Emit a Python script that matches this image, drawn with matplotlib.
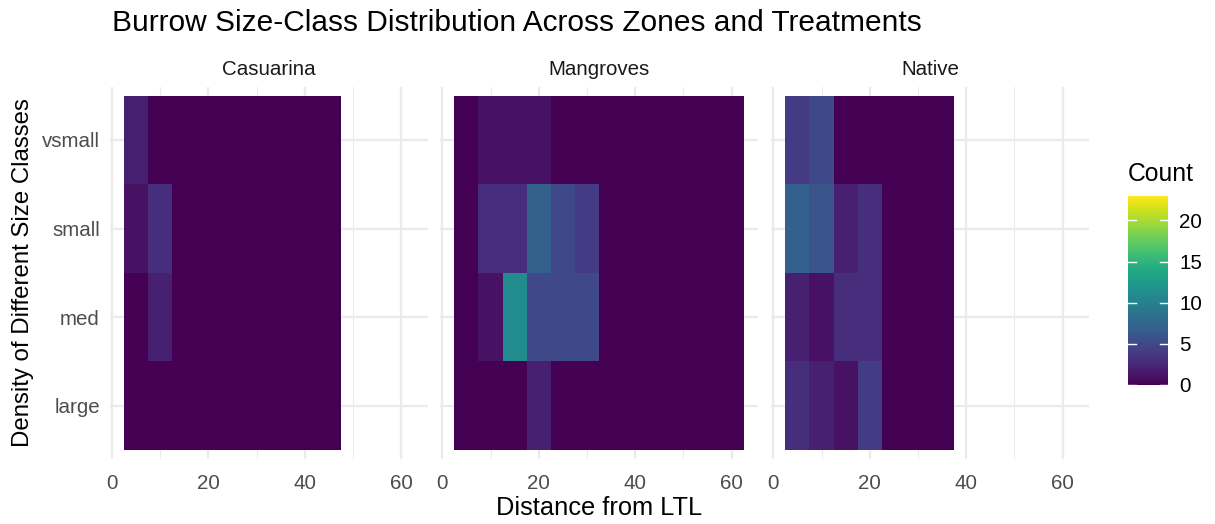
import numpy as np
import matplotlib
matplotlib.use("Agg")
import matplotlib.pyplot as plt
from matplotlib.colors import Normalize
from matplotlib.cm import ScalarMappable

plt.rcParams['font.family'] = ['Liberation Sans', 'DejaVu Sans']

# ---------------- data ----------------
size_classes = ["large", "med", "small", "vsmall"]
zones = ["Casuarina", "Mangroves", "Native"]

cas_dist = [5, 10, 15, 20, 25, 30, 35, 40, 45]
cas_large = [0, 0, 0, 0, 0, 0, 0, 0, 0]
cas_med = [0, 2, 0, 0, 0, 0, 0, 0, 0]
cas_small = [1, 3, 0, 0, 0, 0, 0, 0, 0]
cas_vsmall = [2, 0, 0, 0, 0, 0, 0, 0, 0]

man_dist = [5, 10, 15, 20, 25, 30, 35, 40, 45, 50, 55, 60]
man_large = [0, 0, 0, 2, 0, 0, 0, 0, 0, 0, 0, 0]
man_med = [0, 1, 11, 5, 5, 5, 0, 0, 0, 0, 0, 0]
man_small = [0, 3, 3, 7, 5, 4, 0, 0, 0, 0, 0, 0]
man_vsmall = [0, 1, 1, 1, 0, 0, 0, 0, 0, 0, 0, 0]

nat_dist = [5, 10, 15, 20, 25, 30, 35]
nat_large = [3, 2, 1, 4, 0, 0, 0]
nat_med = [2, 1, 3, 3, 0, 0, 0]
nat_small = [7, 6, 2, 3, 0, 0, 0]
nat_vsmall = [4, 5, 0, 0, 0, 0, 0]

count_limits = [0, 23]
x_ticks = [0, 20, 40, 60]
cbar_ticks = [0, 5, 10, 15, 20]

facets = [
    ("Casuarina", cas_dist, [cas_large, cas_med, cas_small, cas_vsmall]),
    ("Mangroves", man_dist, [man_large, man_med, man_small, man_vsmall]),
    ("Native", nat_dist, [nat_large, nat_med, nat_small, nat_vsmall]),
]

# ---------------- figure ----------------
W, H = 1215, 524
fig = plt.figure(figsize=(W / 100, H / 100), dpi=100)
norm = Normalize(vmin=count_limits[0], vmax=count_limits[1])
cmap = plt.get_cmap("viridis")

panel_lefts = [109.6, 439.9, 770.9]
panel_w = 318.2
panel_top, panel_bot = 86.8, 458.8
grid_c = "#EBEBEB"
tile_w = 5

axes = []
for i, (name, dist, rows) in enumerate(facets):
    ax = fig.add_axes([panel_lefts[i] / W, (H - panel_bot) / H,
                       panel_w / W, (panel_bot - panel_top) / H])
    axes.append(ax)
    d = np.asarray(dist, dtype=float)
    xedges = np.concatenate([d - tile_w / 2, [d[-1] + tile_w / 2]])
    yedges = np.arange(len(size_classes) + 1) + 0.5
    Z = np.array(rows, dtype=float)
    ax.pcolormesh(xedges, yedges, Z, cmap=cmap, norm=norm, zorder=2,
                  edgecolors='none', antialiased=False)
    ax.set_xlim(-0.5, 65.5)
    ax.set_ylim(0.4, 4.6)
    ax.set_xticks(x_ticks)
    ax.set_xticks([10, 30, 50], minor=True)
    ax.set_yticks(np.arange(1, len(size_classes) + 1))
    ax.grid(which='major', color=grid_c, linewidth=1.6, zorder=0)
    ax.grid(which='minor', axis='x', color=grid_c, linewidth=0.8, zorder=0)
    ax.set_axisbelow(True)
    for s in ax.spines.values():
        s.set_visible(False)
    ax.tick_params(which='both', length=0, labelsize=14.8, labelcolor='#4D4D4D')
    ax.tick_params(axis='x', pad=11)
    ax.tick_params(axis='y', pad=7)
    if i == 0:
        ax.set_yticklabels(size_classes)
    else:
        ax.set_yticklabels([])
    ax.set_facecolor('white')
    fig.text((panel_lefts[i] + panel_w / 2) / W, (H - 69.5) / H, name,
             ha='center', va='center', fontsize=14.8, color='#1A1A1A')

# titles
fig.text(111.5 / W, (H - 23) / H, "Burrow Size-Class Distribution Across Zones and Treatments",
         ha='left', va='center', fontsize=21.5, color='black')
fig.text((109.6 + 1089) / 2 / W, (H - 508) / H, "Distance from LTL",
         ha='center', va='center', fontsize=18.3, color='black')
fig.text(23 / W, (H - 272.8) / H, "Density of Different Size Classes",
         ha='center', va='center', rotation=90, fontsize=17.3, color='black')

# colorbar
cb_l, cb_r, cb_t, cb_b = 1128, 1168, 195.7, 385
cax = fig.add_axes([cb_l / W, (H - cb_b) / H, (cb_r - cb_l) / W, (cb_b - cb_t) / H])
sm = ScalarMappable(norm=norm, cmap=cmap)
cb = fig.colorbar(sm, cax=cax, ticks=cbar_ticks)
cb.outline.set_visible(False)
cax.tick_params(length=0, labelsize=14.8, labelcolor='black', pad=8)
for t in cbar_ticks:
    cax.axhline(t, xmin=0, xmax=0.2, color='white', linewidth=1)
    cax.axhline(t, xmin=0.8, xmax=1.0, color='white', linewidth=1)
fig.text(cb_l / W, (H - 174) / H, "Count", ha='left', va='center', fontsize=17.8, color='black')

fig.savefig("out.png", dpi=100, facecolor='white')
